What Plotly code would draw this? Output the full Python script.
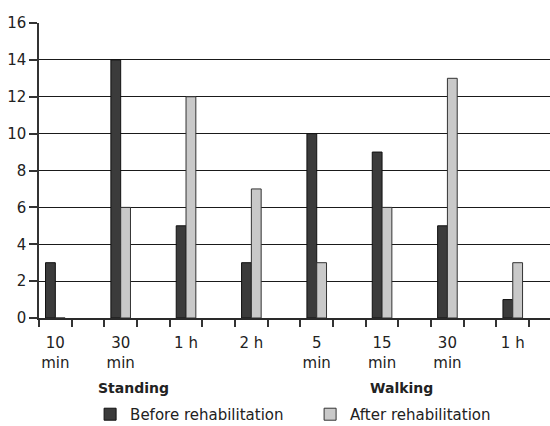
import plotly.graph_objects as go

categories = ["10<br>min", "30<br>min", "1 h", "2 h", "5<br>min", "15<br>min", "30<br>min", "1 h"]
before = [3, 14, 5, 3, 10, 9, 5, 1]
after = [0, 6, 12, 7, 3, 6, 13, 3]
groups = ["Standing", "Walking"]
series_names = ["Before rehabilitation", "After rehabilitation"]

FONT = "DejaVu Sans"
slot = 2
xpos = [i * slot for i in range(len(categories))]
bw = 0.3

fig = go.Figure()
fig.add_trace(go.Bar(x=xpos, y=before, name=series_names[0], width=bw, offset=-bw,
                     marker=dict(color="#3b3b3b", line=dict(color="#111111", width=1))))
fig.add_trace(go.Bar(x=xpos, y=after, name=series_names[1], width=bw, offset=0,
                     marker=dict(color="#c9c9c9", line=dict(color="#333333", width=1))))

fig.update_layout(
    width=550, height=426,
    margin=dict(l=39, r=0, t=23, b=108, autoexpand=False),
    paper_bgcolor="white", plot_bgcolor="white",
    font=dict(family=FONT, size=15, color="#222222"),
    barmode="overlay",
    showlegend=True,
    legend=dict(orientation="h", x=0.1, y=-0.327, xanchor="left", yanchor="middle",
                font=dict(size=15), entrywidth=175, entrywidthmode="pixels",
                itemwidth=30, tracegroupgap=0),
)
fig.update_xaxes(
    range=[-0.5, 15.14], tickmode="array", tickvals=xpos, ticktext=categories,
    ticks="", showgrid=False, showline=True, linecolor="#2a2a2a", linewidth=2.2,
    zeroline=False, fixedrange=True, ticklabelstandoff=10, layer="above traces",
    minor=dict(tickmode="array", tickvals=[i - 0.5 for i in range(17)], ticks="outside",
               ticklen=7, tickcolor="#333333", tickwidth=1.5, showgrid=False),
)
fig.update_yaxes(
    range=[0, 16], tickmode="linear", tick0=0, dtick=2,
    ticks="outside", ticklen=8, tickcolor="#333333", tickwidth=1.5,
    showgrid=True, gridcolor="#1a1a1a", gridwidth=1.3,
    showline=True, linecolor="#333333", linewidth=1.5, zeroline=False, fixedrange=True,
)

group_x = [2.4, 10.6]
for g, gx in zip(groups, group_x):
    fig.add_annotation(x=gx, xref="x", y=-0.237, yref="paper", text="<b>" + g + "</b>",
                       showarrow=False, font=dict(size=14, family=FONT), yanchor="middle")

fig.write_html("out.html", config={"displayModeBar": False},
               post_script="document.body.style.margin='0';")
